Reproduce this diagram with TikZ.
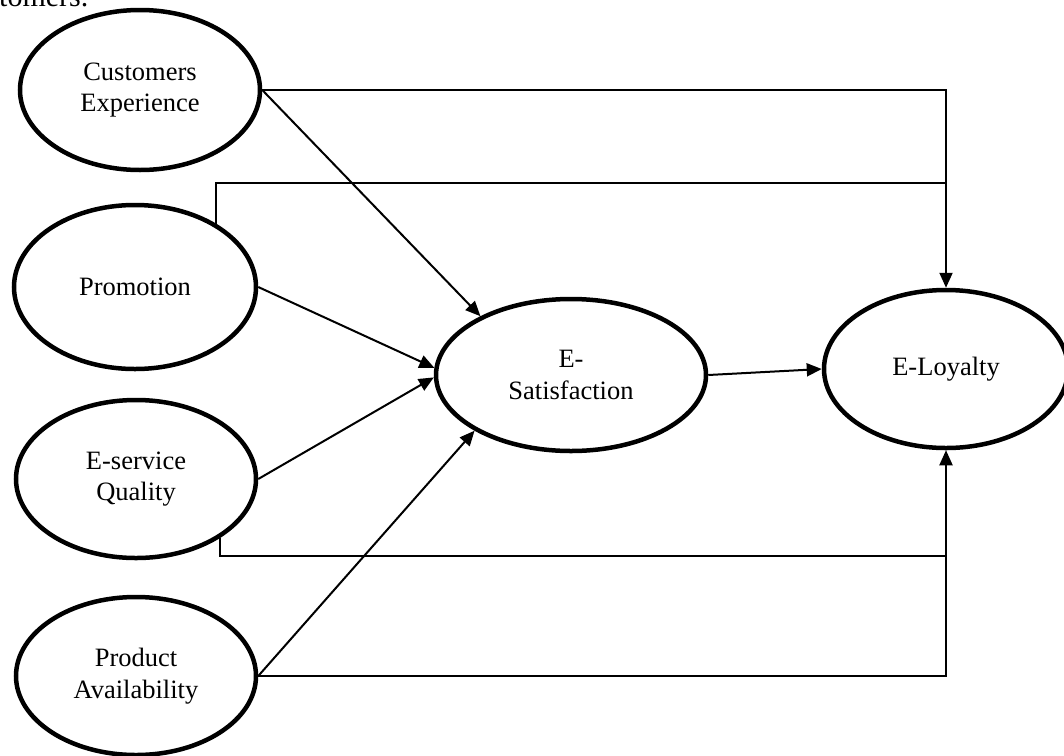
\documentclass[tikz,border=0pt]{standalone}
\usepackage{fontspec}
\setmainfont{Liberation Serif}
\usetikzlibrary{arrows.meta,shapes.geometric}
\begin{document}
\begin{tikzpicture}[x=1pt,y=-1pt,
  latent/.style={draw, ellipse, line width=4.5pt, inner sep=0pt, align=center,
    font=\fontsize{26.5}{31.5}\selectfont},
  conn/.style={line width=2pt},
  arr/.style={line width=2pt, -{Triangle[length=15pt,width=13pt]}}]
\clip (0,0) rectangle (1064,755);
\fill[white] (0,0) rectangle (1064,755);
\node[anchor=base west, font=\fontsize{30}{36}\selectfont, inner sep=0pt] (cap) at (-1,6) {tomers.};
\node[latent, minimum width=240pt, minimum height=160pt] (ce) at (140,90) {Customers\\Experience};
\node[latent, minimum width=242pt, minimum height=164pt] (pr) at (135,287) {Promotion};
\node[latent, minimum width=240pt, minimum height=158pt] (eq) at (136,479) {E-service\\Quality};
\node[latent, minimum width=240pt, minimum height=158pt] (pa) at (136,676) {Product\\Availability};
\node[latent, minimum width=270pt, minimum height=152pt] (es) at (571,375) {E-\\Satisfaction};
\node[latent, minimum width=244pt, minimum height=158pt] (el) at (946,369) {E-Loyalty};
\coordinate (jp) at (946,183);
\coordinate (je) at (946,556);
% paths to E-Loyalty
\draw[arr] (ce.east) -| (el.north);
\draw[conn] (pr.38) |- (jp);
\draw[conn] (eq.-35) |- (je);
\draw[arr] (pa.east) -| (el.south);
% paths to E-Satisfaction
\draw[arr] (ce.east) -- (es.147);
\draw[arr] (pr.east) -- (es.177);
\draw[arr] (eq.east) -- (es.181);
\draw[arr] (pa.east) -- (es.210);
\draw[arr] (es.east) -- (el.west);
\end{tikzpicture}
\end{document}
